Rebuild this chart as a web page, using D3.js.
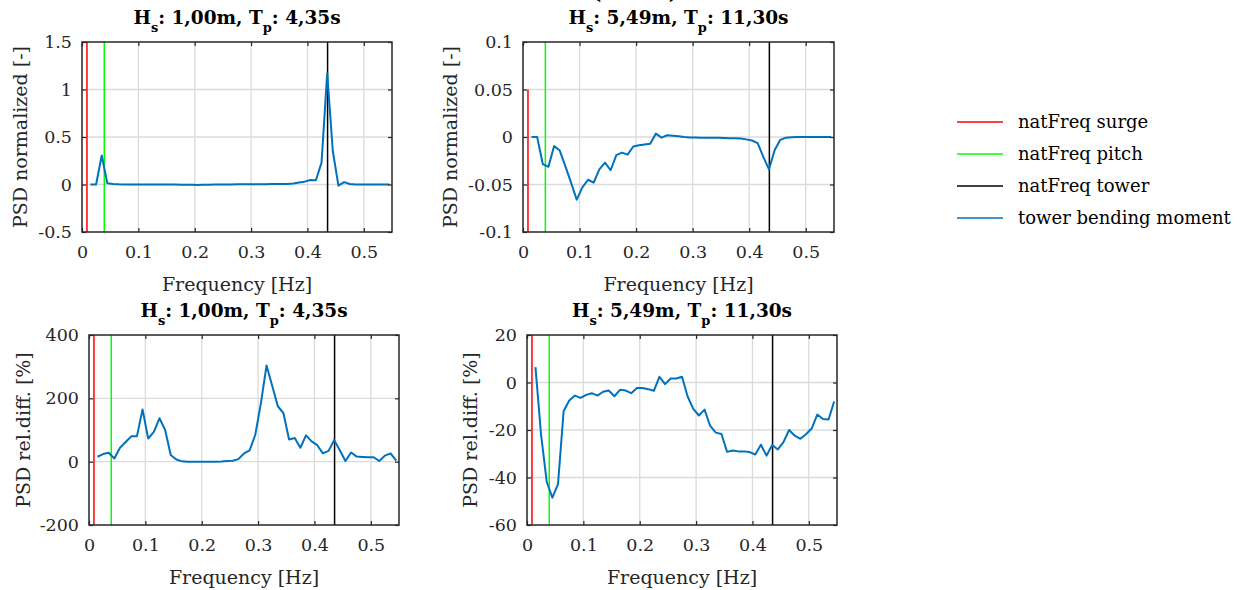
<!DOCTYPE html>
<html>
<head>
<meta charset="utf-8">
<script src="https://cdn.jsdelivr.net/npm/d3@7"></script>
<style>
  html, body { margin: 0; padding: 0; background: #ffffff; }
  svg { display: block; }
  text { font-family: "DejaVu Serif", serif; }
</style>
</head>
<body>
<svg id="chart" width="1244" height="590"></svg>
<script>
// ---------------- DATA ----------------
const freq = [0.015, 0.025, 0.035, 0.045, 0.055, 0.065, 0.075, 0.085, 0.095, 0.105,
              0.115, 0.125, 0.135, 0.145, 0.155, 0.165, 0.175, 0.185, 0.195, 0.205,
              0.215, 0.225, 0.235, 0.245, 0.255, 0.265, 0.275, 0.285, 0.295, 0.305,
              0.315, 0.325, 0.335, 0.345, 0.355, 0.365, 0.375, 0.385, 0.395, 0.405,
              0.415, 0.425, 0.435, 0.445, 0.455, 0.465, 0.475, 0.485, 0.495, 0.505,
              0.515, 0.525, 0.535, 0.545];

// PSD normalized, sea state 1 (Hs 1,00m, Tp 4,35s)
const psdNormSea1 = [0, 0, 0.305, 0.012, 0.005, 0.002, 0.001, 0, 0, 0,
                     0, 0, 0, 0, 0, -0.001, -0.002, -0.003, -0.003, -0.004,
                     -0.003, -0.002, 0, 0.001, 0.001, 0.001, 0.002, 0.002, 0.002, 0.002,
                     0.002, 0.003, 0.005, 0.006, 0.005, 0.005, 0.01, 0.02, 0.03, 0.048,
                     0.045, 0.23, 1.17, 0.35, -0.012, 0.025, 0.005, 0, 0, 0,
                     0, 0, 0, 0];
// PSD normalized, sea state 2 (Hs 5,49m, Tp 11,30s)
const psdNormSea2 = [0, 0, -0.0286, -0.0314, -0.0096, -0.0143, -0.031, -0.048, -0.066, -0.053,
                     -0.045, -0.048, -0.034, -0.027, -0.035, -0.019, -0.0164, -0.0186, -0.010, -0.0086,
                     -0.0079, -0.0071, 0.0036, -0.0007, 0.0018, 0.0014, 0.0007, 0.0, -0.0004, -0.0006,
                     -0.0008, -0.0008, -0.0007, -0.0008, -0.001, -0.0012, -0.0013, -0.0017, -0.0025, -0.0037,
                     -0.0065, -0.021, -0.034, -0.014, -0.003, -0.0007, -0.0002, 0, 0, 0,
                     0, 0, 0, 0];
// PSD relative difference [%], sea state 1
const relDiffSea1 = [15.6, 24, 28, 10, 44, 62, 80, 80, 165, 73,
                     94, 137, 101, 21, 7, 1, 0, 0, -0.5, -0.5,
                     0, 0, 0.5, 2, 3, 8, 26, 36, 85, 185,
                     304, 240, 175, 153, 70, 75, 44, 83, 64, 52,
                     26, 34, 68, 36, 2, 29, 16, 15, 14, 14,
                     2, 19, 26, 3];
// PSD relative difference [%], sea state 2
const relDiffSea2 = [6.5, -22.1, -41.8, -48.5, -42.8, -12, -7.6, -5.5, -6.5, -5.2,
                     -4.5, -5.5, -3.9, -3.4, -5.8, -3.1, -3.4, -4.5, -2.3, -2.3,
                     -2.8, -3.5, 2.4, -0.7, 1.7, 1.7, 2.4, -5.9, -11.1, -13.9,
                     -11.4, -18.3, -21.1, -21.7, -29.2, -28.6, -29.0, -29.0, -29.3, -30.3,
                     -26.2, -30.8, -26.3, -28.2, -25.1, -20.0, -22.4, -23.7, -21.8, -19.4,
                     -13.5, -15.4, -15.6, -8.0];

const natFreqSurge = 0.0088;
const natFreqPitch = 0.0395;
const natFreqTower = 0.4357;

const xTicks = [0, 0.1, 0.2, 0.3, 0.4, 0.5];
const yTicksNorm1 = [-0.5, 0, 0.5, 1, 1.5];
const yTicksNorm2 = [-0.1, -0.05, 0, 0.05, 0.1];
const yTicksDiff1 = [-200, 0, 200, 400];
const yTicksDiff2 = [-60, -40, -20, 0, 20];

const seaStateHs = ["1,00m", "5,49m"];
const seaStateTp = ["4,35s", "11,30s"];
const yLabels = ["PSD normalized [-]", "PSD rel.diff. [%]"];
const xLabel = "Frequency [Hz]";
const legendNames = ["natFreq surge", "natFreq pitch", "natFreq tower", "tower bending moment"];
// upper end of the surge marker line per panel (lower end = axis minimum)
const surgeLineTop = [1.5, 0.05, 400, 20];

// ---------------- LAYOUT ----------------
const colors = { surge: "#ff0000", pitch: "#00ff00", tower: "#000000", series: "#0072bd" };
const panels = [
  { box: [82, 42, 392, 232],  series: psdNormSea1, ticks: yTicksNorm1, sea: 0, ylab: 0, ylabX: 27 },
  { box: [523, 42, 834, 232], series: psdNormSea2, ticks: yTicksNorm2, sea: 1, ylab: 0, ylabX: 457 },
  { box: [89, 335, 399, 525], series: relDiffSea1, ticks: yTicksDiff1, sea: 0, ylab: 1, ylabX: 30 },
  { box: [527, 335, 837, 525], series: relDiffSea2, ticks: yTicksDiff2, sea: 1, ylab: 1, ylabX: 477 }
];

const svg = d3.select("#chart");
const fmt = v => String(v);

// cut-off super title parentheses at the very top (as in the reference)
svg.append("text").attr("x", 597).attr("y", -1).attr("text-anchor", "middle")
  .attr("font-size", 18).attr("font-weight", "bold").attr("fill", "#000").text("(");
svg.append("text").attr("x", 673).attr("y", -1).attr("text-anchor", "middle")
  .attr("font-size", 18).attr("font-weight", "bold").attr("fill", "#000").text(")");

panels.forEach((p, idx) => {
  const [x0, y0, x1, y1] = p.box;
  const w = x1 - x0, h = y1 - y0;
  const x = d3.scaleLinear().domain([0, 0.55]).range([0, w]);
  const yDom = d3.extent(p.ticks);
  const y = d3.scaleLinear().domain(yDom).range([h, 0]);

  const g = svg.append("g").attr("transform", `translate(${x0},${y0})`);

  // grid
  const grid = g.append("g");
  grid.selectAll("line.gx").data(xTicks.filter(t => t > 0)).join("line")
    .attr("x1", d => x(d)).attr("x2", d => x(d)).attr("y1", 0).attr("y2", h)
    .attr("stroke", "#dbdbdb").attr("stroke-width", 1.3);
  grid.selectAll("line.gy").data(p.ticks.filter(t => t > yDom[0] && t < yDom[1])).join("line")
    .attr("x1", 0).attr("x2", w).attr("y1", d => y(d)).attr("y2", d => y(d))
    .attr("stroke", "#dbdbdb").attr("stroke-width", 1.3);

  const clipId = "clip" + idx;
  g.append("clipPath").attr("id", clipId).append("rect").attr("width", w).attr("height", h);
  const plot = g.append("g").attr("clip-path", `url(#${clipId})`);

  // natural frequency markers
  plot.append("line").attr("x1", x(natFreqSurge)).attr("x2", x(natFreqSurge))
    .attr("y1", y(yDom[0])).attr("y2", y(surgeLineTop[idx]))
    .attr("stroke", colors.surge).attr("stroke-width", 1.5);
  plot.append("line").attr("x1", x(natFreqPitch)).attr("x2", x(natFreqPitch))
    .attr("y1", y(yDom[0])).attr("y2", y(yDom[1]))
    .attr("stroke", colors.pitch).attr("stroke-width", 1.5);
  plot.append("line").attr("x1", x(natFreqTower)).attr("x2", x(natFreqTower))
    .attr("y1", y(yDom[0])).attr("y2", y(yDom[1]))
    .attr("stroke", colors.tower).attr("stroke-width", 1.5);

  // series
  const line = d3.line().x((d, i) => x(freq[i])).y(d => y(d));
  plot.append("path").datum(p.series).attr("d", line)
    .attr("fill", "none").attr("stroke", colors.series).attr("stroke-width", 2)
    .attr("stroke-linejoin", "round");

  // axes
  g.append("g").attr("transform", `translate(0,${h})`)
    .call(d3.axisBottom(x).tickValues(xTicks).tickFormat(fmt).tickSizeInner(-4).tickSizeOuter(0).tickPadding(14));
  g.append("g")
    .call(d3.axisLeft(y).tickValues(p.ticks).tickFormat(fmt).tickSizeInner(-4).tickSizeOuter(0).tickPadding(10));
  g.append("g").call(d3.axisTop(x).tickValues(xTicks).tickFormat("").tickSizeInner(-4).tickSizeOuter(0));
  g.append("g").attr("transform", `translate(${w},0)`)
    .call(d3.axisRight(y).tickValues(p.ticks).tickFormat("").tickSizeInner(-4).tickSizeOuter(0));
  g.selectAll(".domain").remove();
  g.selectAll(".tick line").attr("stroke", "#262626").attr("stroke-width", 1.2);
  g.selectAll(".tick text").attr("fill", "#262626").attr("font-size", 17.5)
    .attr("font-family", "DejaVu Serif, serif");

  // box
  g.append("rect").attr("width", w).attr("height", h).attr("fill", "none")
    .attr("stroke", "#262626").attr("stroke-width", 1.5);

  // x label
  g.append("text").attr("x", w / 2).attr("y", h + 59).attr("text-anchor", "middle")
    .attr("font-size", 19).attr("fill", "#262626").text(xLabel);
  // y label
  svg.append("text").attr("transform", `translate(${p.ylabX},${y0 + h / 2}) rotate(-90)`)
    .attr("text-anchor", "middle").attr("font-size", 19).attr("fill", "#262626")
    .text(yLabels[p.ylab]);

  // title with subscripts
  const t = g.append("text").attr("x", w / 2).attr("y", -18).attr("text-anchor", "middle")
    .attr("font-size", 18.5).attr("font-weight", "bold").attr("fill", "#000");
  t.append("tspan").text("H");
  t.append("tspan").attr("font-size", 13).attr("dy", 8).text("s");
  t.append("tspan").attr("dy", -8).text(": " + seaStateHs[p.sea] + ", T");
  t.append("tspan").attr("font-size", 13).attr("dy", 8).text("p");
  t.append("tspan").attr("dy", -8).text(": " + seaStateTp[p.sea]);
});

// legend
const legendColors = [colors.surge, colors.pitch, colors.tower, colors.series];
const lg = svg.append("g").attr("transform", "translate(957,122)");
legendNames.forEach((name, i) => {
  lg.append("line").attr("x1", 0).attr("x2", 46).attr("y1", i * 32).attr("y2", i * 32)
    .attr("stroke", legendColors[i]).attr("stroke-width", 1.5);
  lg.append("text").attr("x", 61).attr("y", i * 32).attr("dy", "0.35em")
    .attr("font-size", 18).attr("fill", "#000").text(name);
});
</script>
</body>
</html>
